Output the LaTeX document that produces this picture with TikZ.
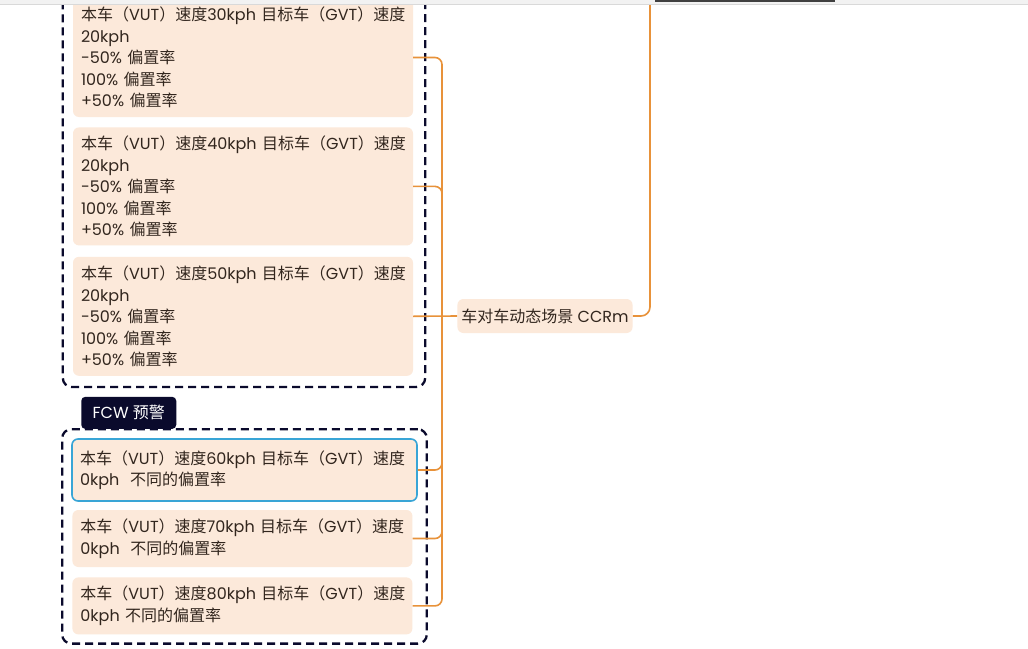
\documentclass[tikz,border=0pt]{standalone}
\usepackage{fontspec}
\setmainfont{Poppins}
\newfontfamily\cjk{Noto Sans CJK SC}
\usepackage{tikz}
\usetikzlibrary{positioning, fit, backgrounds}
\definecolor{boxFill}{RGB}{252,233,218}
\definecolor{inkBrown}{RGB}{50,38,30}
\definecolor{branchOrange}{RGB}{232,146,58}
\definecolor{selBlue}{RGB}{57,165,214}
\definecolor{tagNavy}{RGB}{10,10,44}
\newcommand{\zh}[1]{{\cjk #1}}
\newcommand{\speedline}[1]{\mbox{\zh{本车（}VUT\zh{）速度}#1kph \zh{目标车（}GVT\zh{）速度}}}

\begin{document}
\begin{tikzpicture}[
    x=1pt, y=-1pt,
    caseBox/.style={rectangle, fill=boxFill, rounded corners=6pt, text width=324pt, minimum width=340pt, inner xsep=8pt, inner ysep=0pt, align=left, text=inkBrown, font=\fontsize{16}{21.5}\selectfont},
    branch/.style={draw=branchOrange, line width=1.6pt, rounded corners=7pt},
    group/.style={draw=tagNavy, dash pattern=on 8pt off 5pt, line width=2.3pt, rounded corners=9pt},
    tag/.style={rectangle, fill=tagNavy, text=white, rounded corners=4pt, minimum width=95pt, minimum height=32pt, inner sep=0pt, font=\fontsize{16}{18}\selectfont}
]
\useasboundingbox (0,0) rectangle (1028,648);

% Cases
\node[caseBox, minimum height=119pt] (b1) at (243,57.5) {\speedline{30}\\20kph\\-50\% \zh{偏置率}\\100\% \zh{偏置率}\\+50\% \zh{偏置率}};
\node[caseBox, minimum height=118pt, below=10pt of b1] (b2) {\speedline{40}\\20kph\\-50\% \zh{偏置率}\\100\% \zh{偏置率}\\+50\% \zh{偏置率}};
\node[caseBox, minimum height=119pt, below=11pt of b2] (b3) {\speedline{50}\\20kph\\-50\% \zh{偏置率}\\100\% \zh{偏置率}\\+50\% \zh{偏置率}};

\node[caseBox, draw=selBlue, line width=1.6pt, text width=329pt, minimum width=345pt, minimum height=62pt] (b4) at (244.5,470) {\speedline{60}\\0kph\ \ \zh{不同的偏置率}};
\node[caseBox, minimum height=57pt, below=8pt of b4.south west, anchor=north west, xshift=1pt] (b5) {\speedline{70}\\0kph\ \ \zh{不同的偏置率}};
\node[caseBox, minimum height=57pt, below=10pt of b5] (b6) {\speedline{80}\\0kph \zh{不同的偏置率}};

% Parent
\node[caseBox, text width=, minimum width=174pt, minimum height=34pt, inner xsep=4pt, align=center] (ccrm) at (545,316) {\zh{车对车动态场景} CCRm};
\coordinate (hub) at (442,316);
\coordinate (up) at (650,-5);

% Groups
\begin{scope}[on background layer]
    \fill[white] (0,0) rectangle (1028,648);
    \node[fit=(b1)(b3), group, inner xsep=11pt, inner ysep=11pt, xshift=1pt] (grp1) {};
    \node[fit=(b4)(b6), group, inner xsep=9pt, inner ysep=9pt] (grp2) {};
\end{scope}
\node[tag, anchor=south west] (fcw) at ([xshift=20pt, yshift=-1pt]grp2.north west) {FCW \zh{预警}};

% Branches
\foreach \b in {b1,b2,b4,b5,b6}
    \draw[branch] (\b.east) -| (hub);
\draw[branch] (b3.east) -- (ccrm.west);
\draw[branch, rounded corners=9pt] (ccrm.east) -| (up);

% Top strip
\fill[black!5] (0,0) rectangle (1028,4);
\draw[black!15, line width=1pt] (0,4.5) -- (1028,4.5);
\fill[black!75] (655,0) rectangle (835,2);
\end{tikzpicture}
\end{document}
